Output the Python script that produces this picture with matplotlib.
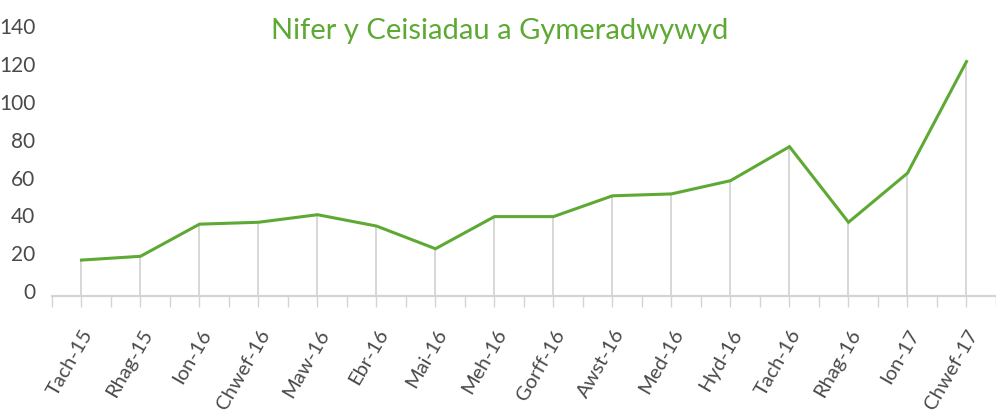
import matplotlib.pyplot as plt
from matplotlib.ticker import MultipleLocator
from matplotlib.transforms import ScaledTranslation

# monthly counts of approved applications
months = ["Tach-15", "Rhag-15", "Ion-16", "Chwef-16", "Maw-16", "Ebr-16", "Mai-16",
          "Meh-16", "Gorff-16", "Awst-16", "Med-16", "Hyd-16", "Tach-16", "Rhag-16",
          "Ion-17", "Chwef-17"]
approved = [19, 21, 38, 39, 43, 37, 25, 42, 42, 53, 54, 61, 79, 39, 65, 124]
y_ticks = [0, 20, 40, 60, 80, 100, 120, 140]

green = "#5ea933"
grey = "#d4d4d4"
text_grey = "#4a4a4a"

plt.rcParams["font.family"] = ["Lato", "DejaVu Sans"]

fig = plt.figure(figsize=(9.96, 4.11), dpi=100)
ax = fig.add_axes([0.0522, 0.2798, 0.9478, 0.644])

x = list(range(len(months)))
ax.vlines(x, 0, approved, color=grey, linewidth=1.3, zorder=1)
ax.plot(x, approved, color=green, linewidth=2.2, zorder=3, solid_joinstyle="miter")

ax.set_xlim(-0.5, len(months) - 0.5)
ax.set_ylim(0, 140)
ax.set_yticks(y_ticks)
ax.set_yticklabels([str(v) for v in y_ticks])
ax.set_xticks(x)
ax.set_xticklabels(months, rotation=60, ha="right", rotation_mode="anchor")
ax.xaxis.set_minor_locator(MultipleLocator(0.5))

for side in ["top", "right", "left"]:
    ax.spines[side].set_visible(False)
ax.spines["bottom"].set_color(grey)
ax.spines["bottom"].set_linewidth(1.6)

ax.tick_params(axis="y", length=0, pad=12, labelsize=15, labelcolor=text_grey)
ax.tick_params(axis="x", which="both", length=8, color=grey, width=1.0,
               labelsize=14.5, labelcolor=text_grey, pad=14)

# y labels sit a little above their value in the original
lift = ScaledTranslation(0, 0.05, fig.dpi_scale_trans)
for lab in ax.get_yticklabels():
    lab.set_transform(lab.get_transform() + lift)

fig.text(0.502, 0.925, "Nifer y Ceisiadau a Gymeradwywyd", color=green,
         fontsize=21, ha="center", va="center")

fig.savefig("out.png", dpi=100)
